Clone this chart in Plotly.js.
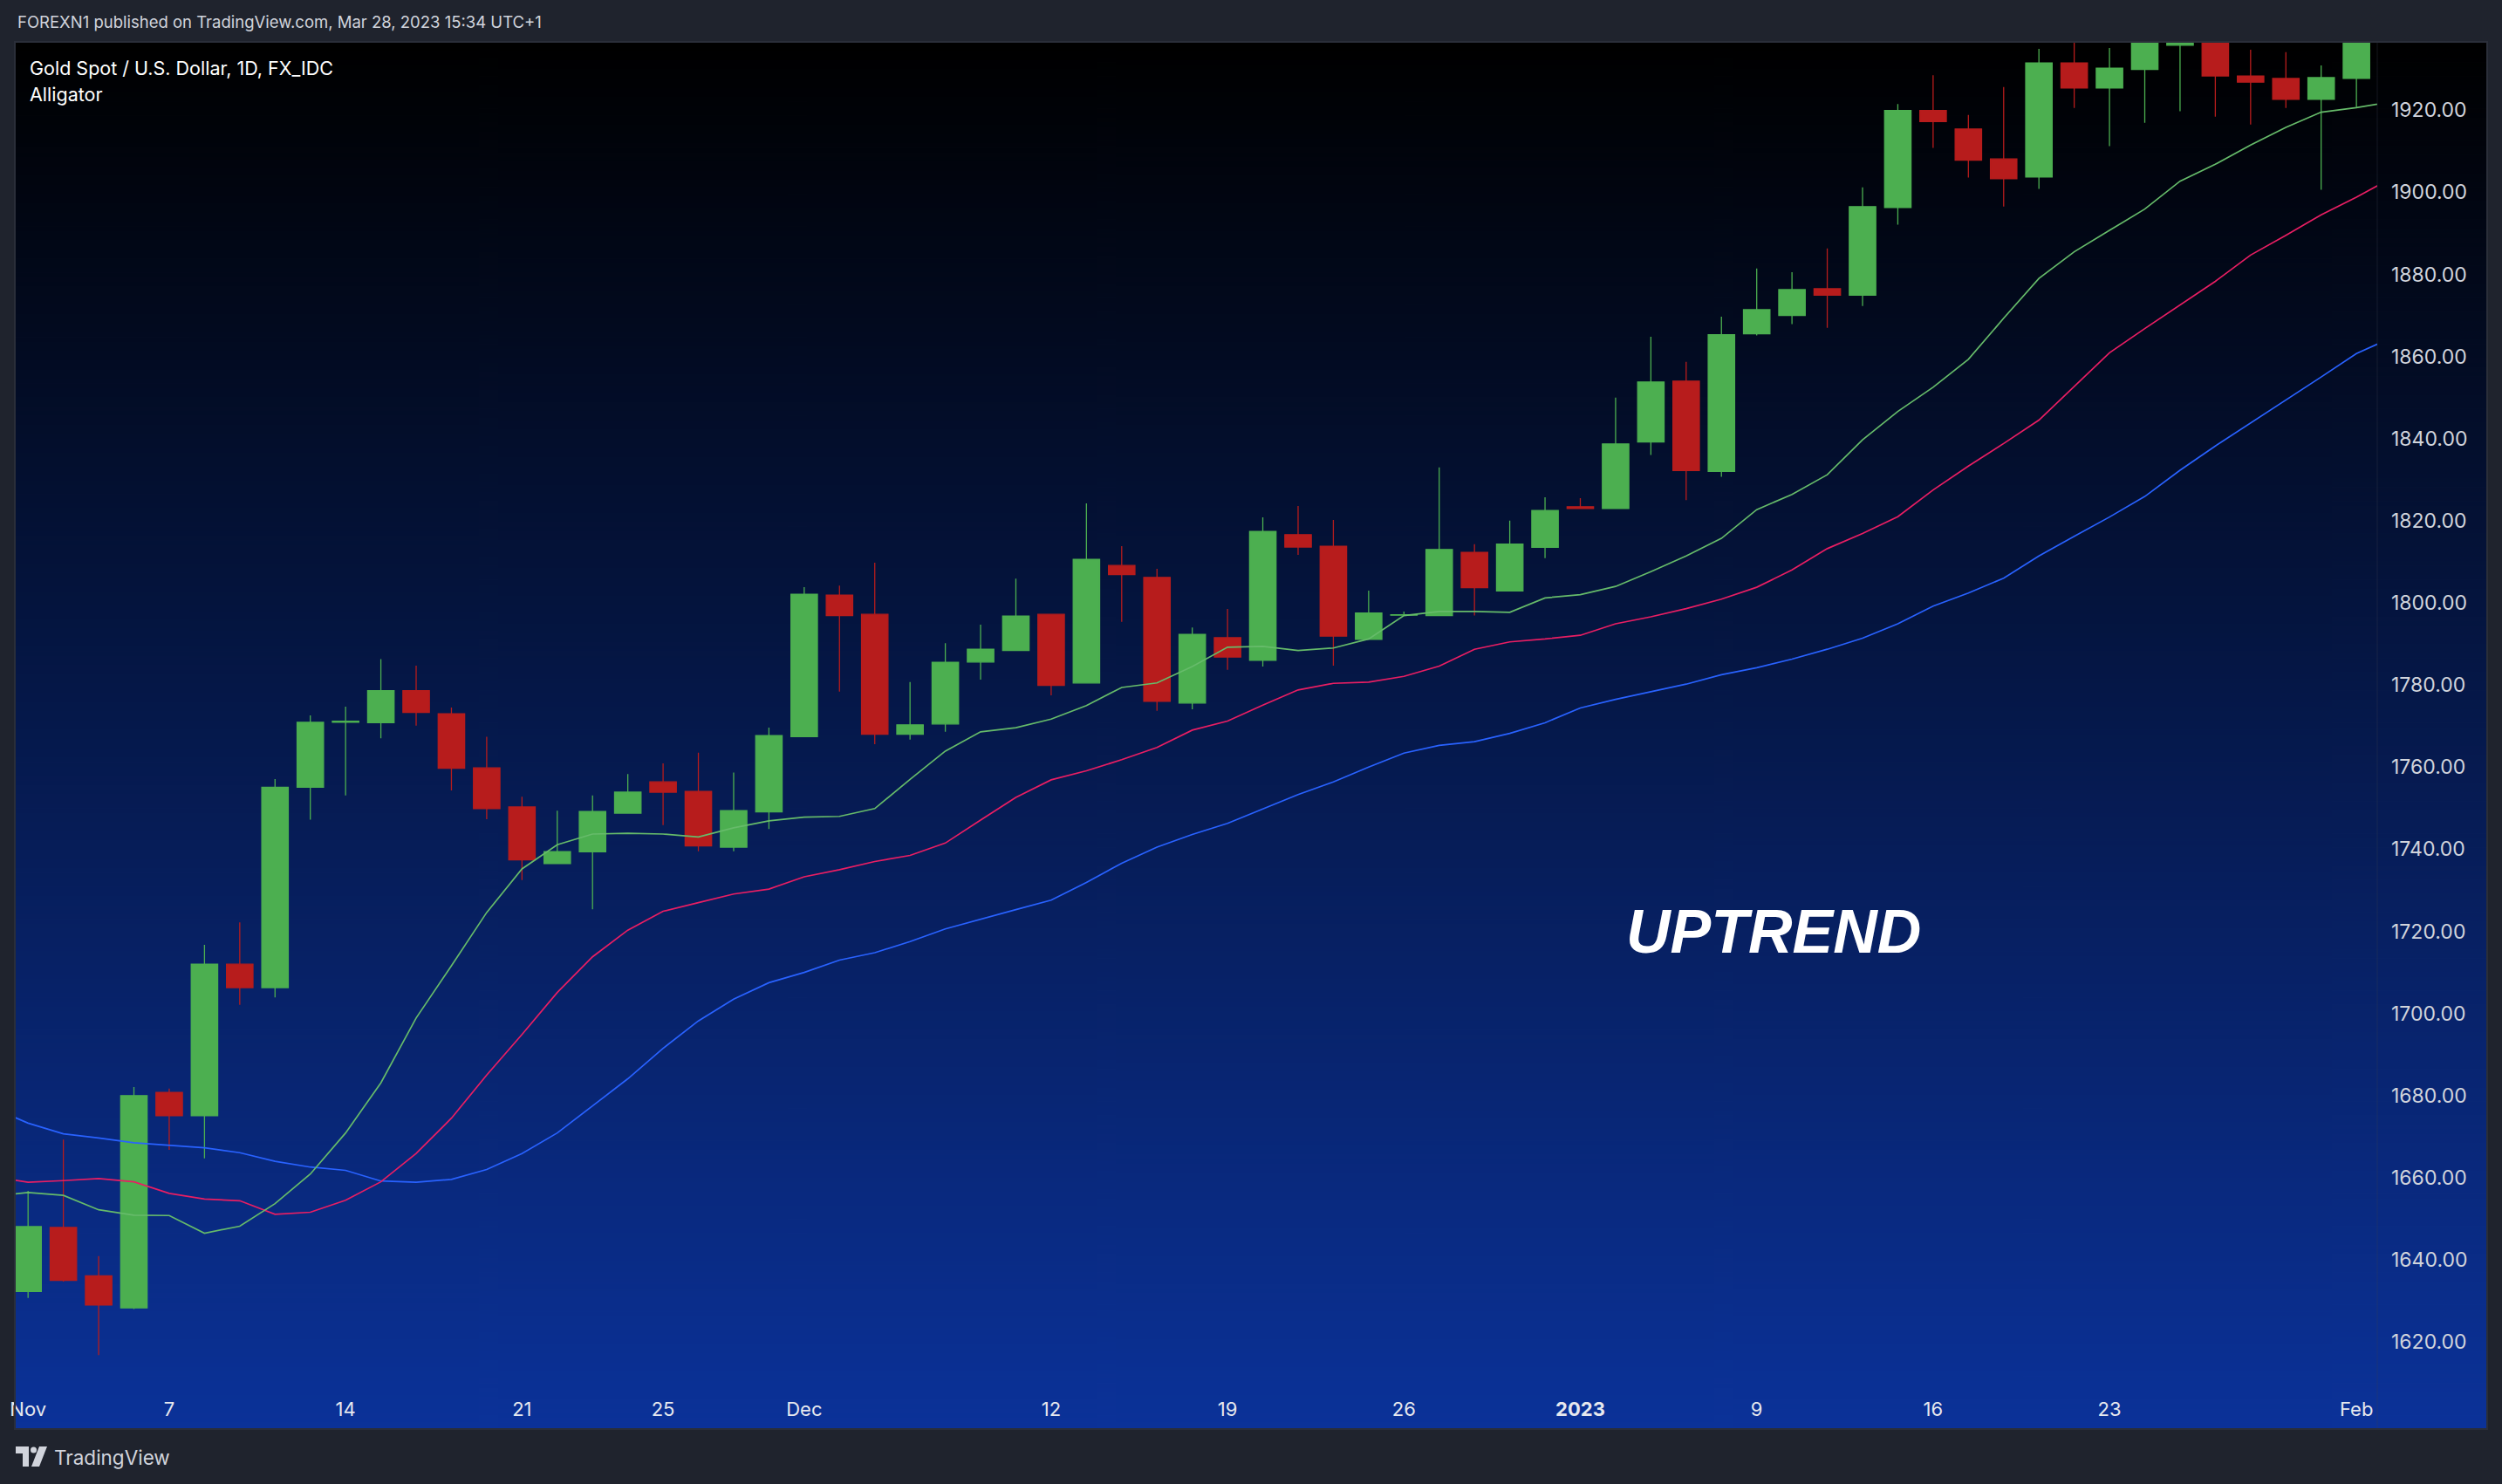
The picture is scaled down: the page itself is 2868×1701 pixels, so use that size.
<!DOCTYPE html>
<html>
<head>
<meta charset="utf-8">
<script src="https://cdn.plot.ly/plotly-3.0.1.min.js"></script>
<style>
  html, body { margin: 0; padding: 0; background: #1f232d; }
  #chart { width: 2868px; height: 1701px; }
</style>
</head>
<body>
<div id="chart"></div>
<script>
// ---------- DATA ----------
const dates = ['2022-11-01','2022-11-02','2022-11-03','2022-11-04','2022-11-07','2022-11-08','2022-11-09','2022-11-10','2022-11-11','2022-11-14',
 '2022-11-15','2022-11-16','2022-11-17','2022-11-18','2022-11-21','2022-11-22','2022-11-23','2022-11-24','2022-11-25','2022-11-28',
 '2022-11-29','2022-11-30','2022-12-01','2022-12-02','2022-12-05','2022-12-06','2022-12-07','2022-12-08','2022-12-09','2022-12-12',
 '2022-12-13','2022-12-14','2022-12-15','2022-12-16','2022-12-19','2022-12-20','2022-12-21','2022-12-22','2022-12-23','2022-12-26',
 '2022-12-27','2022-12-28','2022-12-29','2022-12-30','2023-01-02','2023-01-03','2023-01-04','2023-01-05','2023-01-06','2023-01-09',
 '2023-01-10','2023-01-11','2023-01-12','2023-01-13','2023-01-16','2023-01-17','2023-01-18','2023-01-19','2023-01-20','2023-01-23',
 '2023-01-24','2023-01-25','2023-01-26','2023-01-27','2023-01-30','2023-01-31','2023-02-01'];

const open = [1632.3,1647.9,1636.1,1628.3,1680.8,1675.1,1712.0,1706.3,1755.1,1770.9,
 1770.8,1778.6,1773.0,1759.8,1750.3,1736.5,1739.4,1748.8,1756.4,1754.1,
 1740.5,1749.1,1767.4,1801.9,1797.2,1768.0,1770.5,1785.6,1788.4,1797.2,
 1780.5,1809.1,1806.2,1775.6,1791.5,1786.0,1816.6,1813.8,1791.1,1797.0,
 1796.9,1812.3,1802.9,1813.5,1823.4,1823.0,1839.2,1854.0,1832.0,1865.5,
 1870.0,1876.5,1874.9,1896.3,1919.9,1915.4,1908.1,1903.7,1931.5,1925.4,
 1929.9,1935.8,1946.0,1928.3,1927.7,1922.6,1927.7];

const high = [1656.8,1669.3,1640.9,1682.1,1681.7,1716.7,1722.2,1757.1,1772.6,1774.7,
 1786.3,1784.7,1774.5,1767.4,1752.8,1749.4,1753.1,1758.3,1760.9,1763.5,
 1758.7,1769.6,1803.8,1804.2,1809.8,1780.7,1790.2,1794.7,1805.9,1797.2,
 1824.2,1813.8,1808.3,1794.0,1798.5,1820.8,1823.6,1820.2,1803.0,1797.9,
 1833.0,1814.3,1820.0,1825.7,1825.5,1850.0,1864.8,1858.7,1869.7,1881.4,
 1880.5,1886.3,1901.2,1921.5,1928.5,1918.8,1925.6,1934.9,1937.8,1935.1,
 1942.4,1949.0,1949.5,1934.7,1934.1,1930.9,1951.5];

const low = [1630.7,1634.7,1616.8,1628.0,1666.8,1664.7,1702.1,1703.9,1747.2,1753.1,
 1767.0,1770.1,1754.3,1747.3,1732.5,1736.5,1725.4,1748.8,1745.9,1739.5,
 1739.5,1744.9,1767.4,1778.4,1765.6,1766.7,1768.6,1781.3,1788.4,1777.5,
 1780.5,1795.4,1773.7,1774.1,1783.7,1784.5,1811.7,1784.7,1791.1,1797.0,
 1796.9,1796.9,1802.9,1810.9,1823.0,1823.0,1836.0,1825.0,1830.7,1865.1,
 1867.9,1867.0,1872.3,1892.1,1910.8,1903.6,1896.5,1900.8,1920.5,1911.2,
 1916.9,1919.7,1918.4,1916.5,1920.5,1900.6,1920.5];

const close = [1648.1,1635.0,1629.0,1680.0,1675.1,1712.0,1706.3,1755.1,1770.9,1771.2,
 1778.6,1773.3,1759.7,1749.9,1737.4,1739.4,1749.2,1753.9,1753.9,1740.8,
 1749.4,1767.7,1802.1,1796.9,1768.0,1770.3,1785.5,1788.7,1796.8,1779.9,
 1810.6,1806.9,1776.0,1792.3,1786.8,1817.4,1813.6,1791.9,1797.5,1797.1,
 1813.0,1803.7,1814.3,1822.5,1823.0,1838.7,1853.8,1832.2,1865.3,1871.4,
 1876.3,1874.9,1896.5,1919.9,1917.2,1907.8,1903.3,1931.5,1925.4,1930.2,
 1937.9,1946.0,1928.3,1926.8,1922.6,1927.9,1950.5];

// Alligator lines, one value per bar slot starting one slot before the first candle
const lineStart = -1;
const lips = [1655.5,1656.4,1655.7,1652.2,1650.9,1650.8,1646.5,1648.2,1653.7,1660.9,1670.9,
 1683.1,1698.9,1711.6,1724.6,1735.2,1741.1,1743.7,1743.9,1743.7,1743.0,
 1745.2,1746.9,1747.8,1748.0,1749.9,1757.0,1763.9,1768.6,1769.6,1771.7,
 1775.0,1779.4,1780.5,1784.5,1789.2,1789.4,1788.4,1789.0,1791.2,1796.9,
 1797.9,1797.9,1797.7,1801.2,1802.0,1804.0,1807.6,1811.4,1815.7,1822.7,
 1826.4,1831.2,1839.7,1846.6,1852.5,1859.3,1869.3,1879.0,1885.5,1890.7,
 1895.9,1902.7,1906.8,1911.5,1915.8,1919.5,1920.6,1922.0];
const teeth = [1660.2,1658.9,1659.3,1659.8,1659.0,1656.2,1654.8,1654.4,1651.1,1651.6,1654.5,
 1659.0,1665.9,1674.5,1685.0,1694.9,1705.1,1713.8,1720.3,1724.9,1727.0,
 1729.1,1730.3,1733.3,1735.0,1737.0,1738.5,1741.5,1747.1,1752.6,1756.9,
 1759.1,1761.8,1764.8,1769.0,1771.2,1775.1,1778.8,1780.4,1780.7,1782.1,
 1784.6,1788.7,1790.5,1791.2,1792.1,1794.9,1796.6,1798.6,1800.9,1803.8,
 1808.0,1813.2,1816.9,1821.0,1827.5,1833.3,1838.8,1844.5,1852.6,1860.9,
 1866.8,1872.5,1878.3,1884.7,1889.5,1894.5,1898.8,1903.5];
const jaw = [1677.0,1673.3,1670.7,1669.7,1668.5,1667.9,1667.3,1666.1,1664.0,1662.6,1661.8,
 1659.2,1658.9,1659.6,1662.0,1665.9,1670.9,1677.5,1684.1,1691.5,1698.2,
 1703.5,1707.5,1710.0,1713.0,1714.8,1717.5,1720.6,1723.0,1725.3,1727.6,
 1731.9,1736.6,1740.5,1743.6,1746.3,1749.8,1753.3,1756.4,1760.0,1763.4,
 1765.3,1766.2,1768.2,1770.8,1774.4,1776.5,1778.4,1780.2,1782.5,1784.2,
 1786.3,1788.7,1791.4,1794.9,1799.2,1802.4,1806.0,1811.4,1816.2,1820.9,
 1825.9,1832.3,1838.2,1843.8,1849.3,1855.0,1860.7,1864.6];

// x-axis tick labels (bar slot -> label)
const tickSlots = [0,4,9,14,18,22,29,34,39,44,49,54,59,66];
const tickLabels = ['Nov','7','14','21','25','Dec','12','19','26','<b>2023</b>','9','16','23','Feb'];
const priceTicks = [1620,1640,1660,1680,1700,1720,1740,1760,1780,1800,1820,1840,1860,1880,1900,1920];

// ---------- LAYOUT HELPERS (pixel -> paper) ----------
const W = 2868, H = 1701;
const PL = 18, PR = 2725, PT = 49, PB = 1590;
const px = v => (v - PL) / (PR - PL);
const py = v => (PB - v) / (PB - PT);

// gradient background for the pane
const cv = document.createElement('canvas');
cv.width = 8; cv.height = 600;
const ctx = cv.getContext('2d');
const g = ctx.createLinearGradient(0, 0, 0, 600);
g.addColorStop(0, '#000000');
g.addColorStop(1, '#0b3299');
ctx.fillStyle = g; ctx.fillRect(0, 0, 8, 600);
const bgURL = cv.toDataURL('image/png');

const xs = dates.map((d, i) => i);
const lx = lips.map((v, k) => k + lineStart);

const FONT = 'Inter, "Liberation Sans", Arial, sans-serif';

const traces = [
  {type:'scatter', mode:'lines', x: lx, y: jaw, line:{color:'#2962ff', width:1.7}, hoverinfo:'skip'},
  {type:'scatter', mode:'lines', x: lx, y: teeth, line:{color:'#e91e63', width:1.7}, hoverinfo:'skip'},
  {type:'scatter', mode:'lines', x: lx, y: lips, line:{color:'#66bb6a', width:1.7}, hoverinfo:'skip'},
  {type:'candlestick', x: xs, open: open, high: high, low: low, close: close,
   text: dates, whiskerwidth: 0,
   increasing:{line:{color:'#4caf50', width:1.3}, fillcolor:'#4caf50'},
   decreasing:{line:{color:'#b71c1c', width:1.3}, fillcolor:'#b71c1c'},
   hoverinfo:'skip'}
];

const logoColor = '#d1d4dc';
const P = (x, y) => px(x) + ',' + py(y);

const layout = {
  width: W, height: H,
  margin: {l: PL, r: W - PR, t: PT, b: H - PB, pad: 0},
  paper_bgcolor: '#1f232d',
  plot_bgcolor: 'rgba(0,0,0,0)',
  showlegend: false,
  boxgap: 0.25, boxgroupgap: 0,
  font: {family: FONT, color: '#d1d4dc'},
  xaxis: {
    range: [-0.351, 66.59], showgrid: false, zeroline: false, showline: false,
    rangeslider: {visible: false},
    tickmode: 'array', tickvals: tickSlots, ticktext: tickLabels,
    ticks: '', ticklabelstandoff: 10,
    tickfont: {family: FONT, size: 22, color: '#e6e8ee'},
    fixedrange: true
  },
  yaxis: {
    side: 'right', range: [1609.0, 1936.4], showgrid: false, zeroline: false, showline: false,
    tickmode: 'array', tickvals: priceTicks, tickformat: '.2f',
    ticks: '', ticklabelstandoff: 15,
    tickfont: {family: FONT, size: 23, color: '#d1d4dc'},
    fixedrange: true
  },
  images: [{
    source: bgURL, xref: 'paper', yref: 'paper',
    x: px(18), y: py(49), sizex: px(2850) - px(18), sizey: py(49) - py(1637),
    xanchor: 'left', yanchor: 'top', sizing: 'stretch', layer: 'below'
  }],
  shapes: [
    {type:'rect', xref:'paper', yref:'paper', x0: px(17), x1: px(2851), y0: py(48), y1: py(1638),
     line:{color:'#2a2e39', width:2}, fillcolor:'rgba(0,0,0,0)', layer:'above'},
    {type:'line', xref:'paper', yref:'paper', x0: 1, x1: 1, y0: py(49), y1: py(1637),
     line:{color:'rgba(60,66,80,0.35)', width:1}},
    // TradingView logo
    {type:'path', xref:'paper', yref:'paper', fillcolor: logoColor, line:{width:0},
     path: 'M' + P(18,1658) + ' L' + P(33,1658) + ' L' + P(33,1681) + ' L' + P(26,1681) + ' L' + P(26,1666) + ' L' + P(18,1666) + ' Z'},
    {type:'circle', xref:'paper', yref:'paper', fillcolor: logoColor, line:{width:0},
     x0: px(35), x1: px(42), y0: py(1665.5), y1: py(1658.5)},
    {type:'path', xref:'paper', yref:'paper', fillcolor: logoColor, line:{width:0},
     path: 'M' + P(45,1658) + ' L' + P(54,1658) + ' L' + P(45,1681) + ' L' + P(36,1681) + ' Z'}
  ],
  annotations: [
    {xref:'paper', yref:'paper', x: px(18), y: py(25), xanchor:'left', yanchor:'middle', showarrow:false,
     text:'FOREXN1 published on TradingView.com, Mar 28, 2023 15:34 UTC+1',
     font:{family: FONT, size: 18.5, color:'#d1d4dc'}},
    {xref:'paper', yref:'paper', x: px(32), y: py(78), xanchor:'left', yanchor:'middle', showarrow:false,
     text:'Gold Spot / U.S. Dollar, 1D, FX_IDC', font:{family: FONT, size: 21.5, color:'#ffffff'}},
    {xref:'paper', yref:'paper', x: px(32), y: py(108), xanchor:'left', yanchor:'middle', showarrow:false,
     text:'Alligator', font:{family: FONT, size: 21.5, color:'#ffffff'}},
    {xref:'paper', yref:'paper', x: px(2033), y: py(1068), xanchor:'center', yanchor:'middle', showarrow:false,
     text:'<b><i>UPTREND</i></b>', font:{family: '"Liberation Sans", Arial, sans-serif', size: 70, color:'#ffffff'}},
    {xref:'paper', yref:'paper', x: px(60), y: py(1670), xanchor:'left', yanchor:'middle', showarrow:false,
     text:'TradingView', font:{family: FONT, size: 22.5, color:'#d1d4dc'}}
  ]
};

Plotly.newPlot('chart', traces, layout, {staticPlot: true, displayModeBar: false});
</script>
</body>
</html>
